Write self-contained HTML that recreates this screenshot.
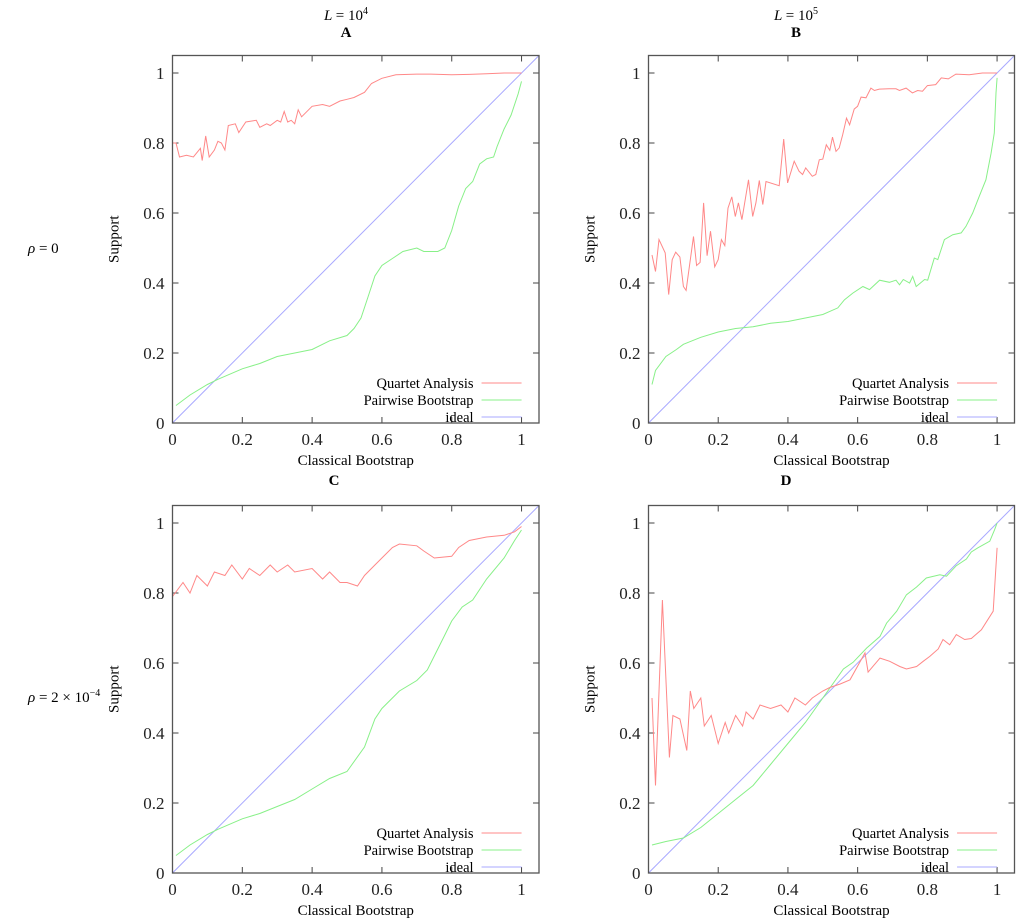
<!DOCTYPE html>
<html><head><meta charset="utf-8"><style>
html,body{margin:0;padding:0;background:#fff}
svg{display:block;font-family:"Liberation Serif","DejaVu Serif",serif}
</style></head><body>
<svg id="fig" width="1024" height="922" viewBox="0 0 1024 922" xmlns="http://www.w3.org/2000/svg">
<text x="346" y="20" text-anchor="middle" font-size="15" font-style="italic">L <tspan font-style="normal">= 10</tspan><tspan font-style="normal" font-size="10" dy="-6">4</tspan></text>
<text x="346" y="37" text-anchor="middle" font-size="15" font-weight="bold">A</text>
<text x="796" y="20" text-anchor="middle" font-size="15" font-style="italic">L <tspan font-style="normal">= 10</tspan><tspan font-style="normal" font-size="10" dy="-6">5</tspan></text>
<text x="796" y="37" text-anchor="middle" font-size="15" font-weight="bold">B</text>
<text x="334" y="485" text-anchor="middle" font-size="15" font-weight="bold">C</text>
<text x="786" y="485" text-anchor="middle" font-size="15" font-weight="bold">D</text>
<text x="28" y="253" font-size="15"><tspan font-style="italic">ρ</tspan> = 0</text>
<text x="28" y="702" font-size="15"><tspan font-style="italic">ρ</tspan> = 2 × 10<tspan font-size="10" dy="-6">−4</tspan></text>
</svg>
<script>
const xTicks=[0,0.2,0.4,0.6,0.8,1];
const yTicks=[0,0.2,0.4,0.6,0.8,1];
const tickLabels=["0","0.2","0.4","0.6","0.8","1"];
const legendLabels=["Quartet Analysis","Pairwise Bootstrap","ideal"];
const aQuartet=[[0,.80],[.01,.80],[.02,.76],[.04,.765],[.06,.76],[.08,.785],[.085,.75],[.095,.82],[.105,.76],[.12,.78],[.13,.805],[.14,.80],[.15,.78],[.16,.85],[.18,.855],[.19,.83],[.21,.86],[.24,.865],[.25,.845],[.27,.855],[.28,.85],[.30,.865],[.31,.86],[.32,.89],[.33,.86],[.34,.865],[.35,.855],[.36,.895],[.37,.875],[.40,.905],[.43,.91],[.45,.905],[.48,.92],[.50,.925],[.52,.93],[.55,.945],[.57,.97],[.60,.985],[.64,.995],[.70,.997],[.74,.997],[.80,.995],[.85,.996],[.90,.998],[.95,1],[1,1]];
const aPairwise=[[0.01,.05],[.05,.08],[.1,.11],[.13,.125],[.2,.155],[.25,.17],[.3,.19],[.35,.20],[.4,.21],[.45,.235],[.5,.25],[.52,.27],[.54,.30],[.56,.36],[.58,.42],[.60,.45],[.63,.47],[.66,.49],[.70,.50],[.72,.49],[.76,.49],[.78,.50],[.80,.55],[.82,.62],[.84,.67],[.86,.69],[.88,.74],[.90,.755],[.92,.76],[.93,.79],[.95,.84],[.97,.88],[.99,.94],[1,.976]];
const bQuartet=[[.01,.48],[.02,.433],[.03,.524],[.048,.486],[.058,.367],[.068,.467],[.078,.488],[.09,.474],[.1,.39],[.108,.379],[.129,.533],[.138,.45],[.148,.459],[.158,.629],[.168,.478],[.178,.548],[.19,.446],[.2,.467],[.209,.524],[.219,.507],[.228,.614],[.239,.646],[.249,.59],[.258,.629],[.268,.581],[.287,.695],[.299,.59],[.308,.629],[.318,.693],[.328,.624],[.337,.69],[.375,.678],[.388,.811],[.399,.686],[.418,.748],[.432,.719],[.442,.71],[.451,.729],[.47,.705],[.48,.71],[.49,.752],[.5,.754],[.51,.795],[.52,.779],[.528,.817],[.538,.776],[.547,.786],[.557,.824],[.568,.871],[.577,.852],[.59,.897],[.6,.905],[.61,.931],[.624,.929],[.638,.957],[.648,.95],[.662,.954],[.69,.955],[.71,.955],[.72,.95],[.739,.957],[.757,.943],[.772,.95],[.786,.948],[.8,.964],[.824,.967],[.84,.986],[.86,.983],[.882,.997],[.92,.995],[.958,1],[1,1]];
const bPairwise=[[.01,.11],[.02,.15],[.05,.19],[.08,.21],[.1,.225],[.15,.245],[.2,.26],[.25,.27],[.3,.275],[.35,.285],[.4,.29],[.45,.30],[.5,.31],[.543,.329],[.562,.352],[.586,.371],[.615,.39],[.634,.381],[.663,.408],[.691,.402],[.71,.408],[.72,.395],[.731,.41],[.749,.40],[.758,.419],[.768,.39],[.792,.41],[.801,.408],[.82,.471],[.83,.467],[.849,.524],[.873,.538],[.897,.543],[.911,.562],[.93,.60],[.949,.648],[.968,.695],[.983,.771],[.992,.829],[.997,.943],[1,.986]];
const cQuartet=[[0,.79],[.03,.83],[.05,.80],[.07,.85],[.1,.82],[.12,.86],[.15,.85],[.17,.88],[.2,.84],[.22,.87],[.25,.85],[.28,.88],[.3,.86],[.33,.88],[.35,.86],[.4,.87],[.43,.84],[.45,.86],[.48,.83],[.5,.83],[.53,.82],[.55,.85],[.58,.88],[.6,.90],[.63,.93],[.65,.94],[.7,.935],[.72,.92],[.75,.90],[.8,.905],[.82,.93],[.85,.95],[.9,.96],[.95,.965],[.98,.975],[1,.99]];
const cPairwise=[[0.01,.05],[.05,.08],[.1,.11],[.13,.125],[.2,.155],[.25,.17],[.3,.19],[.35,.21],[.4,.24],[.45,.27],[.5,.29],[.55,.36],[.58,.44],[.6,.47],[.63,.50],[.65,.52],[.7,.55],[.73,.58],[.76,.64],[.78,.68],[.8,.72],[.83,.76],[.86,.78],[.9,.84],[.95,.90],[.98,.95],[1,.98]];
const dQuartet=[[.01,.50],[.02,.25],[.04,.78],[.06,.33],[.07,.45],[.09,.44],[.11,.35],[.12,.52],[.13,.47],[.15,.50],[.16,.42],[.18,.45],[.2,.37],[.22,.43],[.23,.40],[.25,.45],[.27,.42],[.28,.46],[.3,.44],[.32,.48],[.35,.47],[.38,.48],[.4,.46],[.42,.50],[.45,.48],[.47,.50],[.5,.52],[.52,.53],[.55,.54],[.578,.552],[.621,.629],[.63,.574],[.664,.614],[.692,.605],[.721,.59],[.74,.583],[.769,.59],[.788,.605],[.807,.619],[.831,.64],[.845,.667],[.864,.652],[.883,.681],[.907,.667],[.926,.67],[.955,.695],[.989,.748],[1,.929]];
const dPairwise=[[.01,.08],[.05,.09],[.1,.10],[.15,.13],[.2,.17],[.25,.21],[.3,.25],[.35,.31],[.4,.37],[.45,.43],[.5,.50],[.559,.583],[.587,.602],[.626,.643],[.664,.676],[.683,.714],[.712,.748],[.74,.795],[.769,.817],[.797,.843],[.836,.852],[.855,.848],[.883,.878],[.912,.897],[.926,.917],[.945,.929],[.979,.948],[.993,.981],[1,1]];
const ideal=[[0,0],[1.05,1.05]];
const NS="http://www.w3.org/2000/svg";
const svg=document.getElementById('fig');
function mk(tag,attrs,parent){const e=document.createElementNS(NS,tag);for(const k in attrs)e.setAttribute(k,attrs[k]);parent.appendChild(e);return e;}
function panel(id,L,R,T,B,q,p){
  const g=mk('g',{},svg);
  
  
  const xs=v=>L+(R-L)*v/1.05, ys=v=>B-(B-T)*v/1.05;
  xTicks.forEach((t,i)=>{
    const x=xs(t);
    const tk=mk('path',{d:`M${x},${B}v-6M${x},${T}v6`,stroke:'#444','stroke-width':1},g);
    
    
    const tl=mk('text',{x:x,y:B+22,'text-anchor':'middle','font-size':17,fill:'#222'},g);
    tl.textContent=tickLabels[i];
    
    
  });
  yTicks.forEach((t,i)=>{
    const y=ys(t);
    const tk=mk('path',{d:`M${L},${y}h6M${R},${y}h-6`,stroke:'#444','stroke-width':1},g);
    
    
    const tl=mk('text',{x:L-8,y:y+6,'text-anchor':'end','font-size':17,fill:'#222'},g);
    tl.textContent=tickLabels[i];
    
    
  });
  const line=(d,c,n)=>{const pl=mk('polyline',{points:d.map(v=>xs(v[0]).toFixed(1)+','+ys(v[1]).toFixed(1)).join(' '),fill:'none',stroke:c,'stroke-width':1},g);
    
    };
  line(ideal,'#a8a8ff','ideal-line');
  line(p,'#88f088','pairwise-bootstrap-line');
  line(q,'#ff8888','quartet-analysis-line');
  const fr=mk('rect',{x:L,y:T,width:R-L,height:B-T,fill:'none',stroke:'#555','stroke-width':1.3},g);
  
  
  const xl=mk('text',{x:(L+R)/2,y:B+42,'text-anchor':'middle','font-size':15},g);
  xl.textContent='Classical Bootstrap';
  
  
  const cy=(T+B)/2, cx=L-54;
  const yl=mk('text',{x:cx,y:cy,'text-anchor':'middle','font-size':15,transform:`rotate(-90 ${cx} ${cy})`},g);
  yl.textContent='Support';
  
  
  const cols=['#ff8888','#88f088','#a8a8ff'];
  legendLabels.forEach((s,i)=>{
    const y=B-40+i*17;
    const t=mk('text',{x:xs(1)-48,y:y+5,'text-anchor':'end','font-size':14.5},g);
    t.textContent=s;
    
    
    const l=mk('line',{x1:xs(1)-40,x2:xs(1),y1:y,y2:y,stroke:cols[i],'stroke-width':1},g);
    
    
  });
}
panel('a',172.5,539,55.5,423,aQuartet,aPairwise);
panel('b',648.5,1014.5,55.5,423,bQuartet,bPairwise);
panel('c',172.5,539,505.5,873,cQuartet,cPairwise);
panel('d',648.5,1014.5,505.5,873,dQuartet,dPairwise);
</script>
</body></html>
